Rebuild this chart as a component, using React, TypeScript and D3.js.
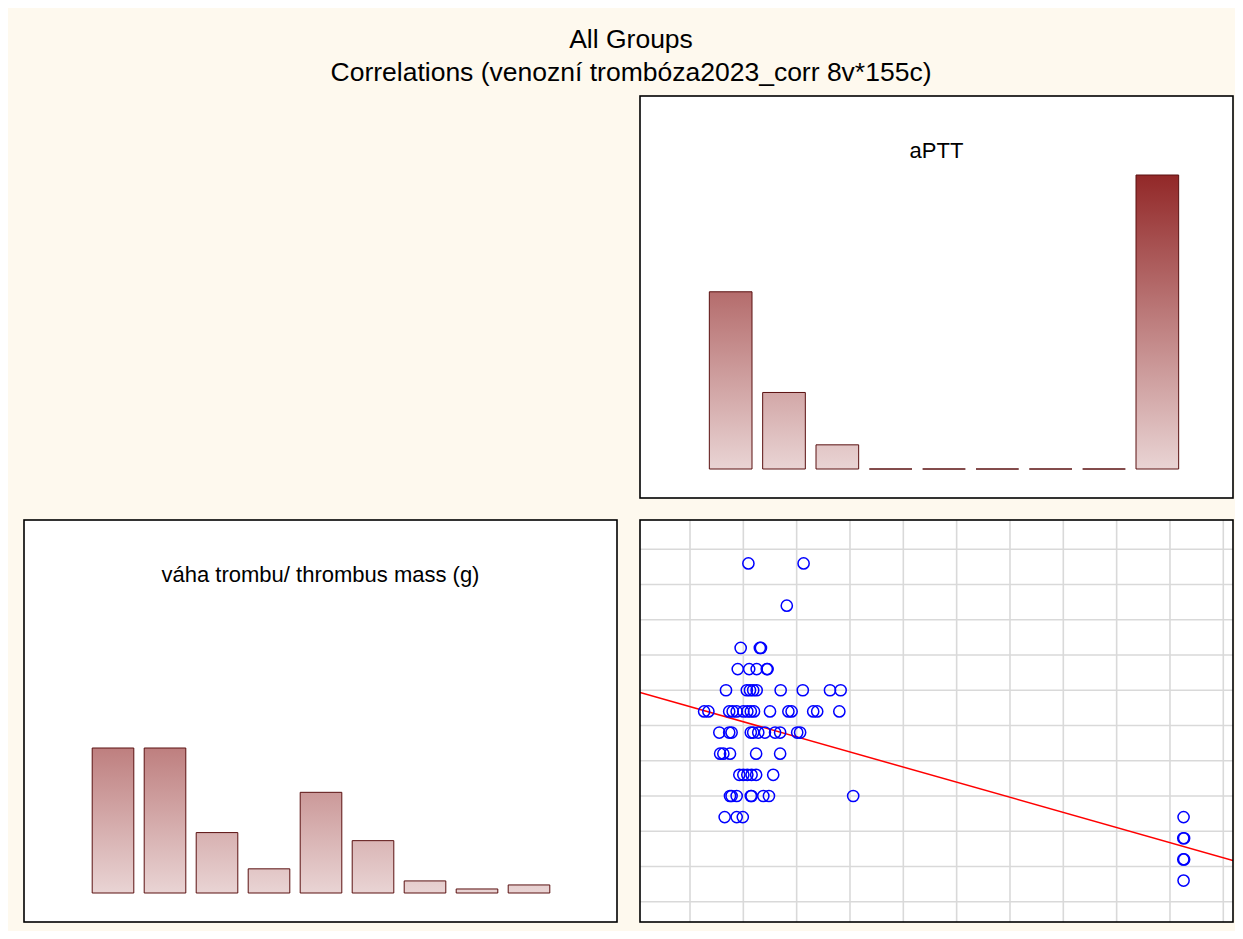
import React, { useEffect, useRef } from 'react';
import * as d3 from 'd3';

// histogram bins (counts per bin)
const apttCounts = [44, 19, 6, 0, 0, 0, 0, 0, 73];
const massCounts = [36, 36, 15, 6, 25, 13, 3, 1, 2];

const apttTitle = 'aPTT';
const massTitle = 'váha trombu/ thrombus mass (g)';
const titleLines = ['All Groups', 'Correlations (venozní trombóza2023_corr 8v*155c)'];

// scatter: aPTT (x) vs thrombus mass (y)
const scatterAptt = [
  41.9, 62.6,
  56.3,
  39.0, 46.2, 46.6,
  37.9, 42.2, 45.0, 48.8, 49.1,
  33.5, 41.3, 42.5, 43.7, 45.0, 54.0, 62.3, 72.5, 76.5,
  25.3, 26.9, 34.7, 36.0, 37.5, 40.0, 41.5, 42.8, 44.0, 50.0, 56.9, 58.1, 66.2, 67.7, 76.0,
  31.0, 34.7, 35.6, 42.8, 43.7, 45.6, 48.1, 51.9, 53.8, 60.2, 61.3,
  31.3, 32.5, 35.0, 44.8, 53.8,
  38.5, 40.0, 41.5, 43.1, 44.8, 51.2,
  35.0, 35.6, 37.5, 42.8, 43.1, 47.5, 49.6, 81.2,
  33.0, 37.5, 39.8,
  205.1, 205.0, 205.3, 205.0, 205.3, 205.1,
];
const scatterMass = [
  48, 48,
  42,
  36, 36, 36,
  33, 33, 33, 33, 33,
  30, 30, 30, 30, 30, 30, 30, 30, 30,
  27, 27, 27, 27, 27, 27, 27, 27, 27, 27, 27, 27, 27, 27, 27,
  24, 24, 24, 24, 24, 24, 24, 24, 24, 24, 24,
  21, 21, 21, 21, 21,
  18, 18, 18, 18, 18, 18,
  15, 15, 15, 15, 15, 15, 15, 15,
  12, 12, 12,
  12, 9, 9, 6, 6, 3,
];
const xTicks = [20, 40, 60, 80, 100, 120, 140, 160, 180, 200, 220];
const yTicks = [0, 5, 10, 15, 20, 25, 30, 35, 40, 45, 50];
// linear fit mass = a + b * aPTT
const fitIntercept = 29.81;
const fitSlope = -0.1071;

const W = 1235;
const H = 931;
const PW = 593;
const PH = 402;
const FONT = "Arial, 'Liberation Sans', sans-serif";

const App: React.FC = () => {
  const svgRef = useRef<SVGSVGElement>(null);

  useEffect(() => {
    if (!svgRef.current) return;
    const svg = d3.select(svgRef.current);
    svg.selectAll('*').remove();

    svg.append('rect').attr('width', W).attr('height', H).attr('fill', '#fef9ee');

    // main title
    svg.append('g')
      .selectAll('text')
      .data(titleLines)
      .enter()
      .append('text')
      .attr('x', 623)
      .attr('y', (d, i) => 40 + i * 33)
      .attr('text-anchor', 'middle')
      .attr('font-family', FONT)
      .attr('font-size', 26.5)
      .attr('fill', '#000')
      .text(d => d);

    const defs = svg.append('defs');

    // shared count scale for both histograms
    const maxCount = d3.max([...apttCounts, ...massCounts]) as number;
    const yCount = d3.scaleLinear().domain([0, maxCount]).range([0, 294]);

    const drawHist = (id: string, x0: number, y0: number, counts: number[], title: string, range: [number, number]) => {
      const g = svg.append('g').attr('transform', `translate(${x0},${y0})`);
      g.append('rect').attr('width', PW).attr('height', PH).attr('fill', '#fff');

      const base = PH - 29;
      const grad = defs.append('linearGradient')
        .attr('id', id)
        .attr('gradientUnits', 'userSpaceOnUse')
        .attr('x1', 0).attr('x2', 0)
        .attr('y1', base).attr('y2', base - yCount(maxCount));
      grad.append('stop').attr('offset', '0%').attr('stop-color', '#e9d4d4');
      grad.append('stop').attr('offset', '100%').attr('stop-color', '#922828');

      const xBand = d3.scaleBand<number>()
        .domain(d3.range(counts.length))
        .range(range)
        .paddingInner(0.2)
        .paddingOuter(0.1);

      g.selectAll('path.bar')
        .data(counts)
        .enter()
        .append('path')
        .attr('class', 'bar')
        .attr('d', (d, i) => {
          const x = xBand(i) as number;
          const h = yCount(d);
          return `M${x},${base}V${base - h}H${x + xBand.bandwidth()}V${base}Z`;
        })
        .attr('fill', `url(#${id})`)
        .attr('stroke', '#5a1010')
        .attr('stroke-width', 1);

      g.append('text')
        .attr('x', PW / 2)
        .attr('y', 62)
        .attr('text-anchor', 'middle')
        .attr('font-family', FONT)
        .attr('font-size', 22)
        .attr('fill', '#000')
        .text(title);

      g.append('rect').attr('width', PW).attr('height', PH)
        .attr('fill', 'none').attr('stroke', '#000').attr('stroke-width', 1.6);
    };

    drawHist('gradAptt', 632, 88, apttCounts, apttTitle, [64, 544]);
    drawHist('gradMass', 16, 512, massCounts, massTitle, [63, 531]);

    // scatter panel
    const sx0 = 632;
    const sy0 = 512;
    const xScale = d3.scaleLinear().domain([20, 220]).range([682 - sx0, 1215.3 - sx0]);
    const yScale = d3.scaleLinear().domain([0, 50]).range([893.7 - sy0, 541.3 - sy0]);

    defs.append('clipPath').attr('id', 'scClip')
      .append('rect').attr('width', PW).attr('height', PH);

    const sg = svg.append('g').attr('transform', `translate(${sx0},${sy0})`);
    sg.append('rect').attr('width', PW).attr('height', PH).attr('fill', '#fff');

    const inner = sg.append('g').attr('clip-path', 'url(#scClip)');
    const grid = inner.append('g').attr('stroke', '#d9d9d9').attr('stroke-width', 1.6);
    grid.selectAll('line.v')
      .data(xTicks)
      .enter()
      .append('line')
      .attr('class', 'v')
      .attr('x1', d => xScale(d)).attr('x2', d => xScale(d))
      .attr('y1', 0).attr('y2', PH);
    grid.selectAll('line.h')
      .data(yTicks)
      .enter()
      .append('line')
      .attr('class', 'h')
      .attr('y1', d => yScale(d)).attr('y2', d => yScale(d))
      .attr('x1', 0).attr('x2', PW);

    const xd = xScale.invert(0);
    const xe = xScale.invert(PW);
    inner.append('line')
      .attr('x1', xScale(xd)).attr('y1', yScale(fitIntercept + fitSlope * xd))
      .attr('x2', xScale(xe)).attr('y2', yScale(fitIntercept + fitSlope * xe))
      .attr('stroke', '#ff0000')
      .attr('stroke-width', 1.5);

    inner.selectAll('circle')
      .data(scatterAptt)
      .enter()
      .append('circle')
      .attr('cx', d => xScale(d))
      .attr('cy', (d, i) => yScale(scatterMass[i]))
      .attr('r', 5.6)
      .attr('fill', 'none')
      .attr('stroke', '#0000ff')
      .attr('stroke-width', 1.5);

    sg.append('rect').attr('width', PW).attr('height', PH)
      .attr('fill', 'none').attr('stroke', '#000').attr('stroke-width', 1.6);
  }, []);

  return (
    <svg ref={svgRef} width={W} height={H} style={{ display: 'block', marginBottom: -8 }}></svg>
  );
};

export default App;
